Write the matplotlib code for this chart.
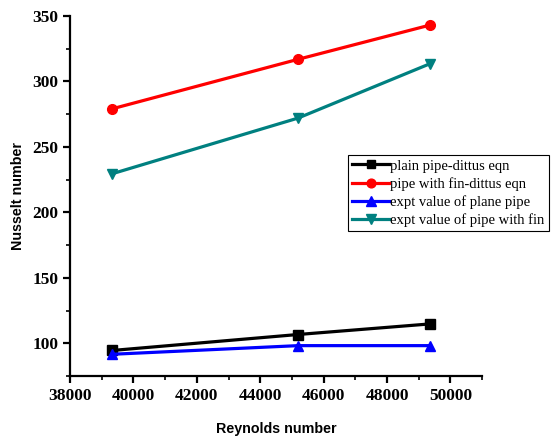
import matplotlib
matplotlib.use("Agg")
import matplotlib.pyplot as plt
from matplotlib.ticker import MultipleLocator

reynolds = [39330, 45190, 49360]
plain_dittus = [94.5, 106.7, 114.8]
fin_dittus = [279.1, 316.9, 343.1]
expt_plain = [91.6, 98.2, 98.2]
expt_fin = [229.5, 272.0, 313.6]

labels = ["plain pipe-dittus eqn", "pipe with fin-dittus eqn",
          "expt value of plane pipe", "expt value of pipe with fin"]

fig = plt.figure(figsize=(5.6, 4.36), dpi=100)
ax = fig.add_axes([0.125, 0.1376, 0.736, 0.8257])

lw = 2.3
ax.plot(reynolds, plain_dittus, color="black", marker="s", ms=6.5, lw=lw, label=labels[0])
ax.plot(reynolds, fin_dittus, color="red", marker="o", ms=7, lw=lw, label=labels[1])
ax.plot(reynolds, expt_plain, color="blue", marker="^", ms=7.5, lw=lw, label=labels[2])
ax.plot(reynolds, expt_fin, color="#008080", marker="v", ms=7.5, lw=lw, label=labels[3])

ax.set_xlim(38000, 51000)
ax.set_ylim(75, 350)
ax.xaxis.set_major_locator(MultipleLocator(2000))
ax.xaxis.set_minor_locator(MultipleLocator(1000))
ax.yaxis.set_minor_locator(MultipleLocator(25))
ax.set_yticks([100, 150, 200, 250, 300, 350])

for s in ["top", "right"]:
    ax.spines[s].set_visible(False)
for s in ["left", "bottom"]:
    ax.spines[s].set_linewidth(1.6)

ax.tick_params(which="major", direction="out", length=5, width=1.6)
ax.tick_params(which="minor", direction="out", length=3, width=1.2)
for lab in ax.get_xticklabels() + ax.get_yticklabels():
    lab.set_fontfamily("Liberation Serif")
    lab.set_fontweight("bold")
    lab.set_fontsize(12.5)

ax.set_xlabel("Reynolds number", fontfamily="Liberation Sans", fontweight="bold", fontsize=10.3, labelpad=13)
ax.set_ylabel("Nusselt number", fontfamily="Liberation Sans", fontweight="bold", fontsize=10.3, labelpad=5)

leg = ax.legend(loc="upper left", bbox_to_anchor=(348 / 560, 1 - 155 / 436),
                bbox_transform=fig.transFigure, fancybox=False, framealpha=1,
                edgecolor="black", prop={"family": "Liberation Serif", "size": 10.5},
                handlelength=2.5, handletextpad=0.1, labelspacing=0.3,
                borderpad=0.3, borderaxespad=0, markerscale=0.9)
leg.get_frame().set_linewidth(0.8)

fig.savefig("out.png", dpi=100)
